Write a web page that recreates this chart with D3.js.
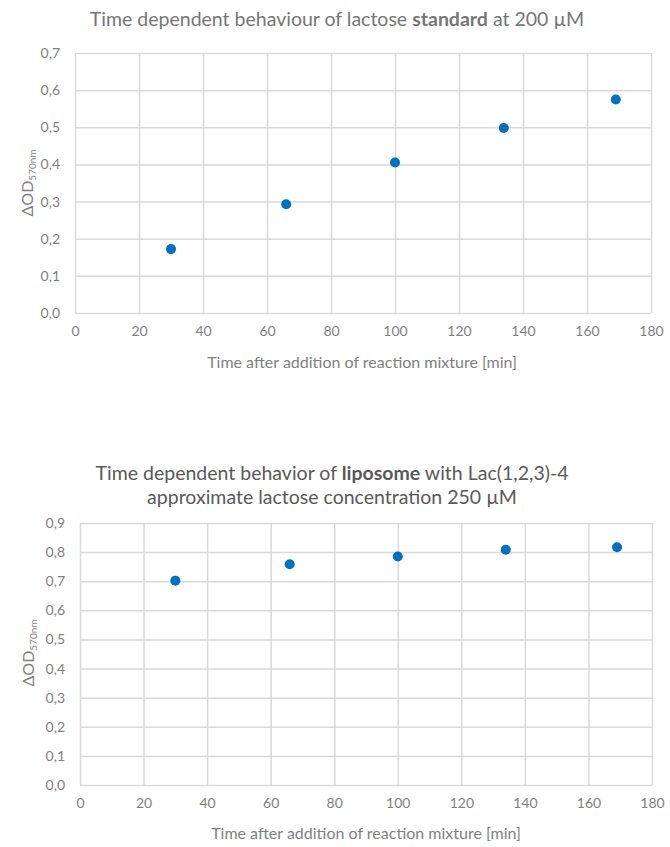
<!DOCTYPE html>
<html><head><meta charset="utf-8">
<script src="https://cdn.jsdelivr.net/npm/d3@7"></script>
<style>
body{margin:0;background:#fff;}
text{font-family:Lato,"Open Sans",sans-serif;}
</style></head>
<body><svg id="c" width="670" height="847"></svg>
<script>
// ---- data ----
const times = [30, 66, 100, 134, 169];
const standardOD = [0.172, 0.293, 0.405, 0.498, 0.575];
const liposomeOD = [0.702, 0.758, 0.785, 0.808, 0.817];
const xTicks = [0, 20, 40, 60, 80, 100, 120, 140, 160, 180];
const yTicks1 = [0, 0.1, 0.2, 0.3, 0.4, 0.5, 0.6, 0.7];
const yTicks2 = [0, 0.1, 0.2, 0.3, 0.4, 0.5, 0.6, 0.7, 0.8, 0.9];
const title1 = [["Time dependent behaviour of lactose ", false], ["standard", true], [" at 200 µM", false]];
const title2a = [["Time dependent behavior of ", false], ["liposome", true], [" with Lac(1,2,3)-4", false]];
const title2b = [["approximate lactose concentration 250 µM", false]];
const xTitle = "Time after addition of reaction mixture [min]";

const svg = d3.select("#c");
const fmt = d => d3.format(".1f")(d).replace(".", ",");

function chart(cfg) {
  const g = svg.append("g");
  const x = d3.scaleLinear().domain([0, 180]).range([cfg.left, cfg.right]);
  const y = d3.scaleLinear().domain([0, cfg.ymax]).range([cfg.bottom, cfg.top]);
  const gx = g.append("g").attr("transform", `translate(0,${cfg.bottom})`)
    .call(d3.axisBottom(x).tickValues(xTicks).tickSize(-(cfg.bottom - cfg.top)).tickFormat(d => d).tickPadding(13));
  const gy = g.append("g").attr("transform", `translate(${cfg.left},0)`)
    .call(d3.axisLeft(y).tickValues(cfg.yTicks).tickSize(-(cfg.right - cfg.left)).tickFormat(fmt).tickPadding(15));
  [gx, gy].forEach(a => {
    a.select(".domain").remove();
    a.selectAll("line").attr("stroke", "#d9d9d9").attr("stroke-width", 1.5);
    a.selectAll("text").attr("fill", "#7f7f7f").style("font-size", "14px").style("font-family", "Lato");
  });
  cfg.titles.forEach((parts, i) => {
    const t = g.append("text").attr("x", cfg.tx).attr("y", cfg.ty + i * 24)
      .attr("text-anchor", "middle").attr("fill", cfg.tcolor).style("font-size", cfg.tsize + "px");
    parts.forEach(p => t.append("tspan").text(p[0]).attr("font-weight", p[1] ? "bold" : "normal"));
  });
  g.append("text").attr("x", cfg.xtx).attr("y", cfg.xty)
    .attr("text-anchor", "middle").attr("fill", "#7f7f7f").style("font-size", "16px").text(xTitle);
  const yl = g.append("text").attr("transform", `translate(${cfg.ylx},${cfg.yly}) rotate(-90)`)
    .attr("text-anchor", "middle").attr("fill", "#7f7f7f").style("font-size", "16px");
  yl.append("tspan").text("ΔOD");
  yl.append("tspan").text("570nm").style("font-size", "10px").attr("dy", 3);
  g.append("g").selectAll("circle").data(cfg.values).join("circle")
    .attr("cx", (d, i) => x(times[i])).attr("cy", d => y(d)).attr("r", 5).attr("fill", "#0070c0");
}

chart({left: 75, right: 651, top: 53, bottom: 313, ymax: 0.7, yTicks: yTicks1, values: standardOD,
  titles: [title1], tx: 337, ty: 26, tsize: 19.5, tcolor: "#767676", xtx: 362, xty: 368, ylx: 33, yly: 183});
chart({left: 80, right: 652, top: 523, bottom: 785, ymax: 0.9, yTicks: yTicks2, values: liposomeOD,
  titles: [title2a, title2b], tx: 332, ty: 480, tsize: 19.5, tcolor: "#595959", xtx: 366, xty: 839, ylx: 34, yly: 653});
</script></body></html>
